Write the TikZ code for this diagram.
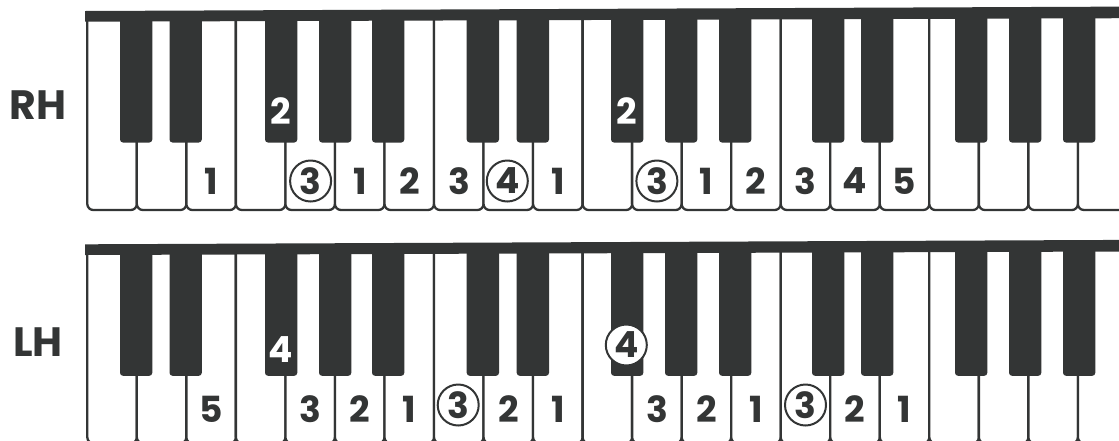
\documentclass[tikz,border=0pt]{standalone}
\usepackage{fontspec}
\setmainfont{Poppins}
\definecolor{dark}{RGB}{51,53,53}
\tikzset{
  wkey/.style={draw=dark, line width=2.3pt, fill=white, rounded corners=6pt},
  bkey/.style={fill=dark, rounded corners=3pt},
  bar/.style={fill=dark},
  fing/.style={text=dark, inner sep=0pt, font=\fontsize{36}{36}\selectfont\bfseries},
  fingw/.style={fing, text=white},
  circ/.style={fing, circle, draw=dark, line width=2pt, minimum size=41pt},
  circw/.style={circ, fill=white},
  hand/.style={text=dark, inner sep=0pt, font=\fontsize{41}{41}\selectfont\bfseries}
}
\begin{document}
\begin{tikzpicture}[x=1pt,y=-1pt]
\useasboundingbox (0,0) rectangle (1119,440);
\clip (0,0) rectangle (1119,440);
% ---------- two keyboards ----------
\foreach \dy/\nm in {0/R,233.3/L}{
  \begin{scope}[yshift=-\dy pt]
    \foreach \i in {0,...,20}{
      \pgfmathsetmacro{\xa}{87.3+49.53*\i}
      \pgfmathsetmacro{\xb}{87.3+49.53*(\i+1)}
      \draw[wkey] (\xa,16) -- (\xa,210) -- (\xb,210) -- (\xb,16);
    }
    \foreach \l in {120,169.5,265,319,372,466.7,516.7,611,665,719,812,861,955,1009,1063}{
      \fill[bkey] (\l,14) -- (\l,142.5) -- (\l+32.3,142.5) -- (\l+32.3,14) -- cycle;
    }
    \fill[bar] (85,11) -- (1125,6.6) -- (1125,18.2) -- (85,21.7) -- cycle;
  \end{scope}
}
% ---------- hand labels ----------
\node[hand] (rh) at (38,105) {RH};
\node[hand] (lh) at (38,342) {LH};
% ---------- right hand fingering ----------
\node[fing]  (r1)  at (211.1,181) {1};
\node[fingw] (r2)  at (281,111) {2};
\node[circ]  (r3)  at (310.6,181) {3};
\node[fing]  (r4)  at (359.8,181) {1};
\node[fing]  (r5)  at (409.4,181) {2};
\node[fing]  (r6)  at (458.9,181) {3};
\node[circ]  (r7)  at (507.3,181) {4};
\node[fing]  (r8)  at (557.8,181) {1};
\node[fingw] (r9)  at (626.7,111) {2};
\node[circ]  (r10) at (656.9,181) {3};
\node[fing]  (r11) at (706.5,181) {1};
\node[fing]  (r12) at (756,181) {2};
\node[fing]  (r13) at (805.5,181) {3};
\node[fing]  (r14) at (855,181) {4};
\node[fing]  (r15) at (904.6,181) {5};
% ---------- left hand fingering ----------
\node[fing]  (l1)  at (211.1,409) {5};
\node[fingw] (l2)  at (281,350) {4};
\node[fing]  (l3)  at (310.2,409) {3};
\node[fing]  (l4)  at (359.8,409) {2};
\node[fing]  (l5)  at (409.4,409) {1};
\node[circ]  (l6)  at (458.2,405) {3};
\node[fing]  (l7)  at (508.3,409) {2};
\node[fing]  (l8)  at (557.8,409) {1};
\node[circw] (l9)  at (626.3,345) {4};
\node[fing]  (l10) at (656.9,409) {3};
\node[fing]  (l11) at (706.5,409) {2};
\node[fing]  (l12) at (756,409) {1};
\node[circ]  (l13) at (805.5,405) {3};
\node[fing]  (l14) at (855,409) {2};
\node[fing]  (l15) at (904.6,409) {1};
\end{tikzpicture}
\end{document}
